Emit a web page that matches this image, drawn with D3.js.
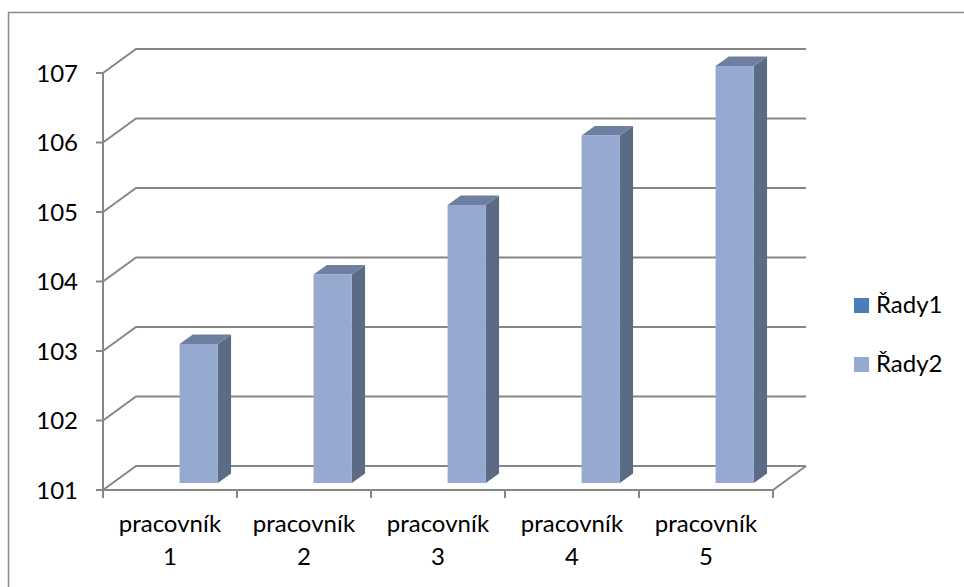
<!DOCTYPE html>
<html>
<head>
<meta charset="utf-8">
<script src="https://cdn.jsdelivr.net/npm/d3@7"></script>
<style>
  body { margin: 0; background: #fff; }
  text { font-family: Lato, "Open Sans", sans-serif; fill: #000; }
</style>
</head>
<body>
<div id="chart"></div>
<script>
const categories = ["pracovník 1", "pracovník 2", "pracovník 3", "pracovník 4", "pracovník 5"]
const seriesNames = ["Řady1", "Řady2"]
const rady1 = [null, null, null, null, null]
const rady2 = [103, 104, 105, 106, 107]
const yTicks = [101, 102, 103, 104, 105, 106, 107]

const width = 964
const height = 587

const svg = d3.select("#chart").append("svg").attr("width", width).attr("height", height)

// outer frame (right/bottom edges are off the picture)
svg.append("rect")
    .attr("x", 8.5).attr("y", 12.5)
    .attr("width", 1000).attr("height", 1000)
    .attr("fill", "none").attr("stroke", "#8a8a8a").attr("stroke-width", 1.5)

// 3D depth vector of the plot box
const depth = {dx: 33, dy: -24}
const barFront = 0.29, barBack = 0.69

const y = d3.scaleLinear().domain([101, 107]).range([490, 73])
const x = d3.scaleBand().domain(categories).range([103, 773])
const xs = d3.scaleBand().domain(seriesNames).range([0, x.bandwidth()]).paddingInner(0).paddingOuter(0.75)

const gridColor = "#868686"
const grid = svg.append("g").attr("stroke", gridColor).attr("stroke-width", 2).attr("fill", "none")

const x0 = x.range()[0], x1 = x.range()[1]

// gridlines: left wall diagonal + back wall horizontal
yTicks.forEach(v => {
    const yy = y(v)
    grid.append("path")
        .attr("d", `M${x0},${yy} L${x0 + depth.dx},${yy + depth.dy} L${x1 + depth.dx},${yy + depth.dy}`)
    grid.append("line")
        .attr("x1", x0 - 7).attr("x2", x0).attr("y1", yy).attr("y2", yy)
})

// value axis
grid.append("line").attr("x1", x0).attr("x2", x0).attr("y1", y(107)).attr("y2", y(101))

// floor front edge and right edge
const yb = y(101)
grid.append("path")
    .attr("d", `M${x0},${yb} L${x1},${yb} L${x1 + depth.dx},${yb + depth.dy}`)

// category ticks
x.domain().concat([null]).forEach((c, i) => {
    const xx = c === null ? x1 : x(c)
    grid.append("line").attr("x1", xx).attr("x2", xx).attr("y1", yb).attr("y2", yb + 8)
})

// y labels
svg.append("g").selectAll("text").data(yTicks)
    .join("text")
    .attr("x", 78).attr("y", d => y(d))
    .attr("dy", "0.36em")
    .attr("text-anchor", "end")
    .attr("font-size", 24)
    .text(d => d)

// x labels (two lines)
const xl = svg.append("g").selectAll("text").data(categories)
    .join("text")
    .attr("text-anchor", "middle")
    .attr("font-size", 24)
xl.each(function(d) {
    const parts = d.split(" ")
    const t = d3.select(this)
    parts.forEach((p, i) => {
        t.append("tspan")
            .attr("x", x(d) + x.bandwidth() / 2)
            .attr("y", 532 + i * 33)
            .text(p)
    })
})

// bars
const colors = {
    "Řady1": {front: "#4a7ebb", side: "#355b88", top: "#3f6ba0"},
    "Řady2": {front: "#95a9d1", side: "#5c6b85", top: "#6e7fa1"}
}
const series = [{name: "Řady1", values: rady1}, {name: "Řady2", values: rady2}]
const bars = svg.append("g")

series.forEach(s => {
    s.values.forEach((v, i) => {
        if (v == null) return
        const c = colors[s.name]
        const fx = x(categories[i]) + xs(s.name) + depth.dx * barFront
        const w = xs.bandwidth()
        const ft = y(v) + depth.dy * barFront
        const fb = y(101) + depth.dy * barFront
        const ddx = depth.dx * (barBack - barFront)
        const ddy = depth.dy * (barBack - barFront)
        // side face
        bars.append("path")
            .attr("d", `M${fx + w},${ft} L${fx + w + ddx},${ft + ddy} L${fx + w + ddx},${fb + ddy} L${fx + w},${fb}Z`)
            .attr("fill", c.side)
        // top face
        bars.append("path")
            .attr("d", `M${fx},${ft} L${fx + ddx},${ft + ddy} L${fx + w + ddx},${ft + ddy} L${fx + w},${ft}Z`)
            .attr("fill", c.top)
        // front face
        bars.append("rect")
            .attr("x", fx).attr("y", ft)
            .attr("width", w).attr("height", fb - ft)
            .attr("fill", c.front)
    })
})

// legend
const legend = svg.append("g").selectAll("g").data(seriesNames)
    .join("g")
    .attr("transform", (d, i) => `translate(854, ${298 + i * 59})`)
legend.append("rect")
    .attr("width", 15).attr("height", 15)
    .attr("fill", d => colors[d].front)
legend.append("text")
    .attr("x", 22).attr("y", 15)
    .attr("font-size", 24)
    .text(d => d)
</script>
</body>
</html>
